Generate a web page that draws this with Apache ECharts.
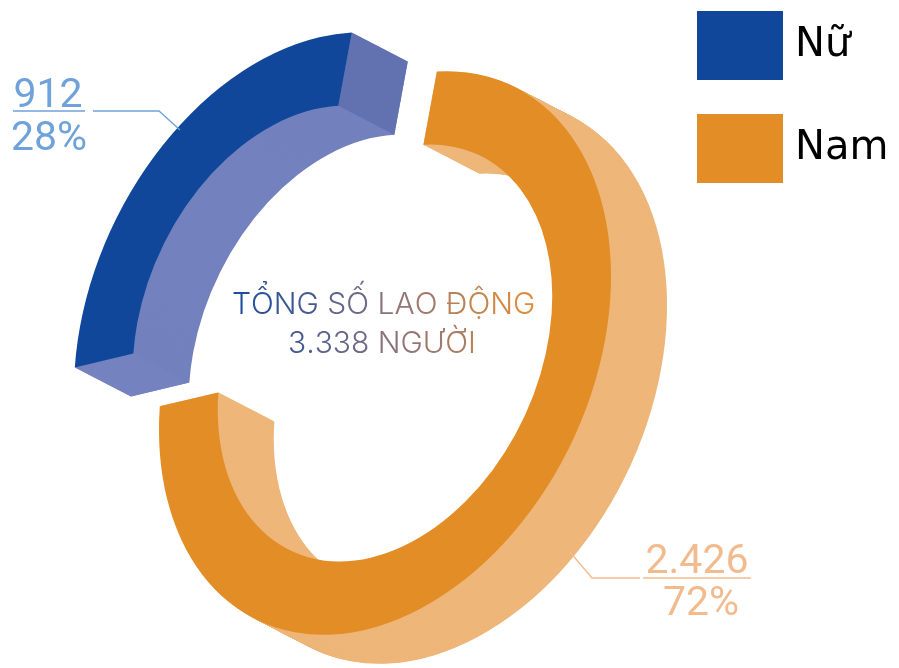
<!DOCTYPE html>
<html>
<head>
<meta charset="utf-8">
<style>html,body{margin:0;padding:0;background:#fff}#c{width:899px;height:668px}</style>
<script src="https://cdn.jsdelivr.net/npm/echarts@6/dist/echarts.min.js"></script>
</head>
<body>
<div id="c"></div>
<script>
const categories = ['Nữ', 'Nam'];
const values = [912, 2426];
const valueLabels = ['912', '2.426'];
const percentLabels = ['28%', '72%'];
const centerLines = ['TỔNG SỐ LAO ĐỘNG', '3.338 NGƯỜI'];
const faceColors = ['#10479a', '#e38d26'];
const wallColors = ['#7381be', '#eeb679'];
const startWallColors = ['#7482c0', '#eeb679'];
const endWallColors = ['#6272b0', '#eeb679'];
const labelColors = ['#6fa2da', '#f2bb8e'];

const total = values.reduce((a, b) => a + b, 0);
const DEG = Math.PI / 180;
const ellipse = { a: 296, b: 207, tilt: 25.4, hole: 0.74 };
const centers = [[300, 314], [385, 353]];
const sweepStart = [240.7, -20.9];
const depth = { dx: 56, dy: 29, steps: 64 };

function point(cx, cy, phi, k) {
  const t = ellipse.tilt * DEG, p = phi * DEG;
  const au = ellipse.a * Math.cos(p) * k, bv = ellipse.b * Math.sin(p) * k;
  return [cx + au * Math.sin(t) + bv * Math.cos(t), cy - au * Math.cos(t) + bv * Math.sin(t)];
}
function ringSector(cx, cy, phi0, phi1, fill) {
  return {
    type: 'sector',
    x: cx, y: cy,
    rotation: -ellipse.tilt * DEG,
    scaleX: ellipse.b / 100, scaleY: ellipse.a / 100,
    shape: { cx: 0, cy: 0, r: 100, r0: 100 * ellipse.hole,
      startAngle: (phi0 - 90) * DEG, endAngle: (phi1 - 90) * DEG, clockwise: true },
    style: { fill: fill },
    silent: true
  };
}
function wallQuad(cx, cy, phi, fill) {
  const o = point(cx, cy, phi, 1), i = point(cx, cy, phi, ellipse.hole);
  return { type: 'polygon', silent: true,
    shape: { points: [o, i, [i[0] + depth.dx, i[1] + depth.dy], [o[0] + depth.dx, o[1] + depth.dy]] },
    style: { fill: fill } };
}
function renderSlice(idx) {
  return function (params, api) {
    const v = api.value(0);
    const phi0 = sweepStart[idx], phi1 = phi0 + v / total * 360;
    const [cx, cy] = centers[idx];
    const children = [];
    for (let s = depth.steps; s >= 1; s--) {
      const f = s / depth.steps;
      children.push(ringSector(cx + depth.dx * f, cy + depth.dy * f, phi0, phi1, wallColors[idx]));
    }
    children.push(wallQuad(cx, cy, phi0, startWallColors[idx]));
    children.push(wallQuad(cx, cy, phi1, endWallColors[idx]));
    children.push(ringSector(cx, cy, phi0, phi1, faceColors[idx]));
    return { type: 'group', children: children };
  };
}

const stops = [[0, [32, 76, 156]], [0.5, [130, 112, 130]], [1, [222, 140, 58]]];
function gradColor(t) {
  for (let i = 1; i < stops.length; i++) {
    if (t <= stops[i][0]) {
      const [t0, c0] = stops[i - 1], [t1, c1] = stops[i];
      const k = (t - t0) / (t1 - t0);
      return 'rgb(' + c0.map((c, j) => Math.round(c + (c1[j] - c) * k)).join(',') + ')';
    }
  }
  return 'rgb(222,140,58)';
}
function gradientText(line, t0, t1, size, left, top) {
  const chars = Array.from(line), rich = {};
  const text = chars.map((ch, i) => {
    const key = 'c' + i;
    rich[key] = { fill: gradColor(t0 + (t1 - t0) * i / (chars.length - 1)), fontSize: size, fontFamily: 'Inter', fontWeight: 300 };
    return '{' + key + '|' + ch + '}';
  }).join('');
  return { type: 'text', left: left, top: top, silent: true, z: 20,
    style: { text: text, rich: rich, fontFamily: 'Inter', fontSize: size, fill: '#555' } };
}
function plainText(str, x, y, color) {
  return { type: 'text', x: x, y: y, silent: true, z: 20,
    style: { text: str, fill: color, fontFamily: 'Roboto', fontSize: 41, textAlign: 'center' } };
}
function leader(points, color) {
  return { type: 'polyline', silent: true, z: 15, shape: { points: points },
    style: { stroke: color, lineWidth: 1.3, fill: null } };
}

const chart = echarts.init(document.getElementById('c'), null, { renderer: 'canvas' });
chart.setOption({
  animation: false,
  backgroundColor: '#fff',
  legend: {
    orient: 'vertical', left: 697, top: 11, padding: 0, itemWidth: 86, itemHeight: 69, itemGap: 34,
    icon: 'rect', selectedMode: false, data: categories,
    textStyle: { color: '#000', fontFamily: 'DejaVu Sans', fontSize: 40, padding: [0, 0, 0, 7] }
  },
  series: categories.map((name, i) => ({
    type: 'custom', name: name, coordinateSystem: 'none',
    itemStyle: { color: faceColors[i] },
    data: [[values[i]]],
    renderItem: renderSlice(i),
    silent: true
  })),
  graphic: { elements: [
    gradientText(centerLines[0], 0, 1, 30, 232, 290),
    gradientText(centerLines[1], 0.18, 0.78, 30, 288, 329),
    plainText(valueLabels[0], 48, 76, labelColors[0]),
    plainText(percentLabels[0], 49, 119, labelColors[0]),
    leader([[13, 111], [85, 111]], labelColors[0]),
    leader([[93, 111], [159, 111], [180, 130]], labelColors[0]),
    plainText(valueLabels[1], 697, 542, labelColors[1]),
    plainText(percentLabels[1], 701, 584, labelColors[1]),
    leader([[751, 578], [643, 578]], labelColors[1]),
    leader([[640, 578], [592, 578], [570, 552]], labelColors[1])
  ] }
});
</script>
</body>
</html>
